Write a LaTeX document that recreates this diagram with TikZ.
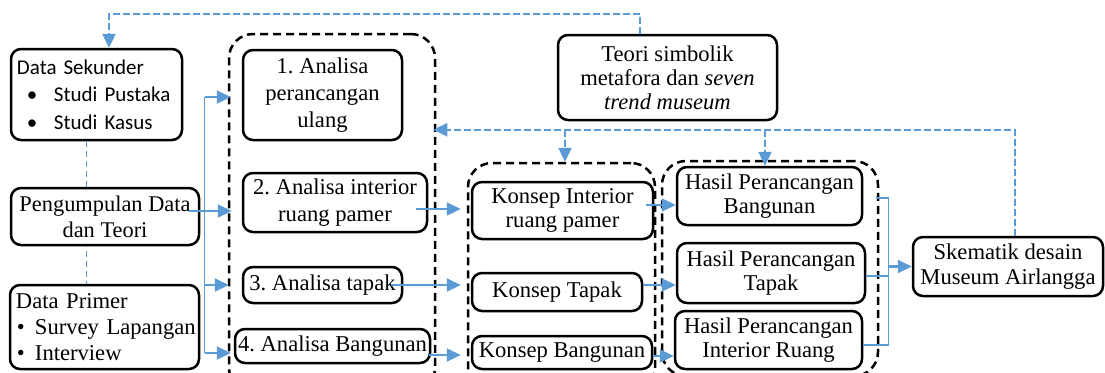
\documentclass[tikz,border=0pt]{standalone}
\usepackage{fontspec}
\setmainfont{Liberation Serif}
\newfontfamily\calib{Carlito}
\usetikzlibrary{arrows.meta,calc}
\definecolor{blu}{HTML}{5B9BD5}
\newcommand\fsl{\fontsize{11.3}{13.5}\selectfont}
\newcommand\fsr{\fontsize{11.3}{11.6}\selectfont}
\frenchspacing
\begin{document}
\begin{tikzpicture}[x=0.5pt,y=-0.5pt,
  box/.style={draw, line width=1.25pt, rounded corners=5pt, fill=white, inner sep=1pt, align=center, font=\fsl},
  grp/.style={draw, line width=1.25pt, dash pattern=on 4pt off 2.5pt, rounded corners=12pt, inner sep=0pt},
  arr/.style={draw=blu, line width=1.1pt, -{Triangle[length=7pt,width=6.5pt]}},
  darr/.style={draw=blu, line width=1.2pt, dash pattern=on 3.5pt off 1.5pt, -{Triangle[length=7pt,width=6.5pt]}},
  bline/.style={draw=blu, line width=0.6pt},
  tdash/.style={draw=blu, line width=0.5pt, dash pattern=on 3pt off 2pt}]
\fill[white] (0,0) rectangle (1105,372);
\useasboundingbox (0,0) rectangle (1105,372);
\clip (0,0) rectangle (1105,372);

% groups
\node[grp, minimum width=103pt, minimum height=179pt] (g1) at (332,213) {};
\node[grp, minimum width=93.5pt, minimum height=114.5pt] (g2) at (561.5,277.5) {};
\node[grp, minimum width=108pt, minimum height=107.5pt] (g3) at (770,268.5) {};

% left column
\node[box, minimum width=85.5pt, minimum height=45.5pt, inner xsep=3pt, text width=79.5pt, align=left, font=\calib\fontsize{10.5}{13.75}\selectfont] (ds) at (96.5,94.5)
  {\mbox{Data Sekunder}\\\mbox{\makebox[18.5pt][l]{\hspace{5pt}\textbullet}Studi Pustaka}\\\mbox{\makebox[18.5pt][l]{\hspace{5pt}\textbullet}Studi Kasus}};
\node[box, minimum width=94.5pt, minimum height=42pt, inner xsep=3pt, text width=88.5pt, align=left, font=\fontsize{11.3}{13}\selectfont] (dp) at (104.5,327)
  {\mbox{Data Primer}\\\mbox{\makebox[9.5pt][l]{\hspace{0.5pt}\textbullet}Survey Lapangan}\\\mbox{\makebox[9.5pt][l]{\hspace{0.5pt}\textbullet}Interview}};
\draw[tdash] ($(ds.south)+(-10.5,0)$) -- ($(dp.north)+(-18.5,0)$);
\node[box, minimum width=94pt, minimum height=28.5pt, font=\fontsize{11.2}{13}\selectfont] (pd) at (105,216.5) {Pengumpulan Data\\dan Teori};

% analysis column
\node[box, minimum width=79.5pt, minimum height=45pt] (b1) at (322.5,95) {1. Analisa\\perancangan\\ulang};
\node[box, minimum width=92pt, minimum height=29.5pt] (b2) at (335,202.5) {2. Analisa interior\\ruang pamer};
\node[box, minimum width=79.5pt, minimum height=18pt] (b3) at (322.5,285) {3. Analisa tapak};
\node[box, minimum width=97.5pt, minimum height=17pt] (b4) at (332.5,346) {4. Analisa Bangunan};

% concept column
\node[box, minimum width=90.5pt, minimum height=28.5pt, font=\fsr] (ki) at (562.5,210.5) {Konsep Interior\\ruang pamer};
\node[box, minimum width=85pt, minimum height=19pt] (kt) at (557,292) {Konsep Tapak};
\node[box, minimum width=90pt, minimum height=16.5pt] (kb) at (562,352.5) {Konsep Bangunan};

% result column
\node[box, minimum width=92.5pt, minimum height=29pt, font=\fsr] (hb) at (769.5,196) {Hasil Perancangan\\Bangunan};
\node[box, minimum width=94pt, minimum height=30pt, font=\fsr] (ht) at (771,273) {Hasil Perancangan\\Tapak};
\node[box, minimum width=93.5pt, minimum height=29pt, font=\fsr] (hi) at (768.5,340) {Hasil Perancangan\\Interior Ruang};

\node[box, minimum width=95pt, minimum height=29.5pt, font=\fontsize{11.3}{12.5}\selectfont] (sk) at (1008,266.5) {Skematik desain\\Museum Airlangga};
\node[box, minimum width=109.5pt, minimum height=42.5pt, font=\fontsize{11.3}{12}\selectfont] (te) at (667.5,77.5) {Teori simbolik\\metafora dan \textit{seven}\\\textit{trend museum}};

% top feedback dashed
\coordinate (tp) at ($(te.north)+(-27.5,0)$);
\coordinate (tl) at ($(ds.north)+(12.5,0)$);
\draw[darr] (tp) -- ++(0,-20) -| (tl);

% lower feedback dashed
\coordinate (sp) at ($(sk.north)+(7,0)$);
\coordinate (sq) at ($(sp)+(0,-106)$);
\draw[darr, shorten >=-1.5pt] (sp) -- (sq) -- (sq -| g1.east);
\coordinate (g2n) at ($(g2.north)+(3.5,0)$);
\draw[darr] (g2n |- sq) -- (g2n);
\coordinate (hbn) at ($(hb.north)+(-4.5,0)$);
\draw[darr] (hbn |- sq) -- (hbn);

% data to analysis
\coordinate (a0) at ($(pd.east)+(-11,-5.5)$);
\draw[arr, shorten >=-2pt] (a0) -- (a0 -| g1.west);
\coordinate (bus1) at ($(b1.west)+(-37,2)$);
\coordinate (bus3) at ($(b3.west)+(-37,0)$);
\coordinate (bus4) at ($(b4.west)+(-29,7)$);
\draw[bline] (bus1) -- (bus4);
\draw[arr, shorten >=-1.5pt] (bus1) -- (bus1 -| g1.west);
\draw[arr, shorten >=-0.5pt] (bus3) -- (bus3 -| g1.west);
\draw[arr, shorten >=-1.5pt] (bus4) -- (bus4 -| g1.west);

% analysis to concept
\coordinate (a2) at ($(b2.east)+(-12,6.5)$);
\draw[arr, shorten >=3pt] (a2) -- (a2 -| g2.west);
\coordinate (a3) at ($(b3.east)+(-12,0)$);
\draw[arr, shorten >=3pt] (a3) -- (a3 -| g2.west);
\coordinate (a4) at ($(b4.east)+(-2,9)$);
\draw[arr, shorten >=3pt] (a4) -- (a4 -| g2.west);

% concept to result
\coordinate (a5) at ($(ki.east)+(-8,-5.5)$);
\draw[arr] (a5) -- (a5 -| hb.west);
\coordinate (a6) at ($(kt.east)+(0,-7)$);
\draw[arr] (a6) -- (a6 -| ht.west);
\coordinate (a7) at ($(kb.east)+(0,3.5)$);
\draw[arr] (a7) -- (a7 -| hi.west);

% bracket to schematic
\coordinate (k1) at ($(hb.east)+(13,2)$);
\coordinate (kx) at ($(k1)+(12,0)$);
\coordinate (k3) at ($(hi.east)+(0,5)$);
\draw[bline] (k1) -- (kx) |- (k3);
\coordinate (k2) at ($(ht.east)+(0,3)$);
\draw[bline] (k2) -- (k2 -| kx);
\draw[arr] (kx |- sk.west) -- (sk.west);
\end{tikzpicture}
\end{document}
